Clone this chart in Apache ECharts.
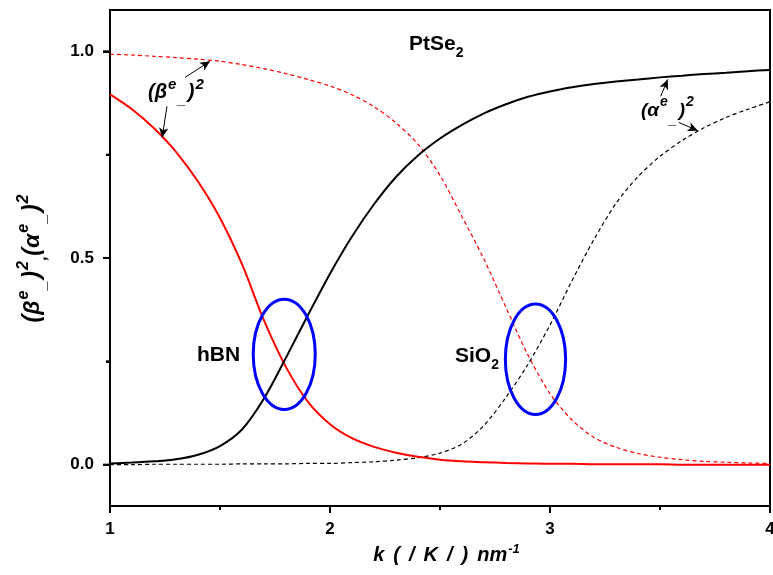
<!DOCTYPE html>
<html><head><meta charset="utf-8">
<script src="https://cdn.jsdelivr.net/npm/echarts@6/dist/echarts.min.js"></script>
<style>html,body{margin:0;padding:0;background:#fff}#c{width:773px;height:575px}</style>
</head><body><div id="c"></div>
<script>
const kValues   = [1.0,1.1,1.2,1.3,1.4,1.5,1.6,1.7,1.8,1.9,2.0,2.1,2.2,2.3,2.4,2.5,2.6,2.7,2.8,2.9,3.0,3.1,3.2,3.3,3.4,3.5,3.6,3.7,3.8,3.9,4.0];
const betaHBN   = [0.896,0.860,0.814,0.757,0.685,0.597,0.485,0.349,0.236,0.152,0.098,0.064,0.043,0.029,0.019,0.012,0.008,0.006,0.004,0.003,0.002,0.002,0.001,0.001,0.001,0.001,0.000,0.000,0.000,0.000,0.000];
const alphaHBN  = [0.003,0.005,0.008,0.013,0.024,0.045,0.085,0.160,0.259,0.362,0.462,0.552,0.630,0.696,0.748,0.789,0.822,0.850,0.872,0.890,0.903,0.913,0.921,0.927,0.932,0.937,0.941,0.945,0.948,0.952,0.955];
const betaSiO2  = [0.993,0.991,0.988,0.985,0.981,0.976,0.968,0.958,0.946,0.932,0.916,0.895,0.866,0.827,0.775,0.700,0.600,0.497,0.380,0.265,0.172,0.108,0.066,0.042,0.027,0.018,0.012,0.008,0.006,0.004,0.003];
const alphaSiO2 = [0.000,0.000,0.001,0.001,0.001,0.001,0.002,0.002,0.002,0.003,0.003,0.005,0.007,0.011,0.017,0.028,0.050,0.095,0.163,0.243,0.338,0.445,0.545,0.632,0.697,0.746,0.784,0.815,0.840,0.860,0.878];
const xMajorTicks = [1, 2, 3, 4];
const xMinorTicks = [1.5, 2.5, 3.5];
const yLabelValues = [0, 0.5, 1.0];
const yMinorValues = [0.25, 0.75];
const yMin = -0.1, yMax = 1.1, xMin = 1, xMax = 4;
// annotations in data coordinates
const arrowStart = [[1.341,0.937],[1.259,0.867],[3.503,0.891],[3.585,0.828]];
const arrowEnd   = [[1.455,0.976],[1.237,0.791],[3.535,0.932],[3.672,0.808]];
const ellipseK  = [1.792, 2.934];
const ellipseV  = [0.267, 0.255];
const ellipseRK = [0.141, 0.137];
const ellipseRV = [0.1335, 0.1335];

const FF = 'Arial, "Liberation Sans", sans-serif';
const pair = arr => kValues.map((k,i)=>[k,arr[i]]);
function richSet(size, sup, lh, color){
  const base = {fontWeight:'bold',fontStyle:'italic',fontFamily:FF,color:color,lineHeight:lh};
  return {
    m:Object.assign({fontSize:size,verticalAlign:'middle'},base),
    p:Object.assign({fontSize:size,verticalAlign:'middle',padding:[0,0,0,2]},base),
    sup:Object.assign({fontSize:sup,verticalAlign:'top',padding:[0,1,0,1]},base),
    sub:Object.assign({fontSize:sup,verticalAlign:'bottom'},base),
    g:Object.assign({fontSize:size,verticalAlign:'middle',width:9},base)
  };
}
const lineS = (name, data, color, dashed, extra) => Object.assign({
  name, type:'line', data:pair(data), showSymbol:false, smooth:0.3, silent:true,
  lineStyle:{color, width: dashed?1.2:2, type: dashed?[4,3]:'solid'}, z: dashed?2:3
}, extra||{});
const tickStyle = {stroke:'#000', lineWidth:2};

const blue = {
  a:{fontSize:21,fontWeight:'bold',fontFamily:FF,color:'#0000ff',lineHeight:32,verticalAlign:'middle'},
  s:{fontSize:14,fontWeight:'bold',fontFamily:FF,color:'#0000ff',lineHeight:32,verticalAlign:'bottom'}
};

const chart = echarts.init(document.getElementById('c'));
chart.setOption({
  animation:false,
  grid:{left:110, right:3, top:10, bottom:69, show:true, borderColor:'#000', borderWidth:2, containLabel:false, outerBoundsMode:'none'},
  xAxis:{
    type:'value', min:xMin, max:xMax, interval:1,
    axisLine:{show:true, onZero:false, lineStyle:{color:'#000', width:2}},
    axisTick:{show:true, inside:false, length:7, lineStyle:{color:'#000', width:2}},
    minorTick:{show:true, splitNumber:2, length:4, lineStyle:{color:'#000', width:2}},
    splitLine:{show:false}, minorSplitLine:{show:false},
    axisLabel:{margin:15, fontSize:17, fontWeight:'bold', color:'#000', fontFamily:FF, showMinLabel:true, showMaxLabel:true},
    name:'{m|k}{g| }{m|(}{g| }{m|/}{g| }{m|K}{g| }{m|/}{g| }{m|)}{g| }{m|nm}{sup|-1}', nameLocation:'middle', nameGap:35,
    nameTextStyle:{rich:richSet(20,13,26,'#000'), padding:[0,0,0,14]}
  },
  yAxis:[{
    type:'value', min:yMin, max:yMax, position:'left',
    axisLine:{show:true, onZero:false, lineStyle:{color:'#000', width:2}},
    axisTick:{show:true, inside:false, length:7, customValues:yLabelValues, lineStyle:{color:'#000', width:2}},
    splitLine:{show:false},
    axisLabel:{margin:16, fontSize:17, fontWeight:'bold', color:'#000', fontFamily:FF, customValues:yLabelValues, formatter:v=>v.toFixed(1)},
    name:'{m|(β}{sup|e}{sub|_}{p|)}{sup|2}{sub|,}{m|(α}{sup|e}{sub|_}{p|)}{sup|2}',
    nameLocation:'middle', nameGap:60, nameRotate:90,
    nameTextStyle:{rich:richSet(23,16,34,'#000')}
  },{
    type:'value', min:yMin, max:yMax, position:'left',
    axisLine:{show:false},
    axisTick:{show:true, inside:false, length:4, customValues:yMinorValues, lineStyle:{color:'#000', width:2}},
    axisLabel:{show:false}, splitLine:{show:false}
  }],
  series:[
    lineS('betaSiO2', betaSiO2, '#ff0000', true),
    lineS('alphaSiO2', alphaSiO2, '#000000', true),
    lineS('betaHBN', betaHBN, '#ff0000', false),
    lineS('alphaHBN', alphaHBN, '#000000', false, {
      markLine:{silent:true, animation:false, symbol:['none','arrow'], symbolSize:[7,10],
        lineStyle:{color:'#000', width:1, type:'solid'}, label:{show:false},
        data: arrowStart.map((s,i)=>[{coord:s},{coord:arrowEnd[i]}])}
    }),
    {
      type:'custom', silent:true, z:10,
      data: ellipseK.map((k,i)=>[k, ellipseV[i], ellipseRK[i], ellipseRV[i]]),
      renderItem:(params, api)=>{
        const c = api.coord([api.value(0), api.value(1)]);
        const s = api.size([api.value(2), api.value(3)]);
        return {type:'ellipse', shape:{cx:c[0], cy:c[1], rx:s[0], ry:s[1]},
          style:{fill:'none', stroke:'#0000ff', lineWidth:3}};
      }
    },
    { // x-axis ticks (major length 7, minor length 4), drawn below the axis
      type:'custom', silent:true, clip:false, z:10,
      data: xMajorTicks.map(x=>[x, yMin, 7]).concat(xMinorTicks.map(x=>[x, yMin, 4])),
      renderItem:(params, api)=>{
        const c = api.coord([api.value(0), api.value(1)]);
        const len = api.value(2);
        return {type:'line', shape:{x1:c[0], y1:c[1], x2:c[0], y2:c[1]+len}, style:tickStyle};
      }
    },
    { // y-axis ticks, drawn left of the axis
      type:'custom', silent:true, clip:false, z:10,
      data: yLabelValues.map(y=>[xMin, y, 7]).concat(yMinorValues.map(y=>[xMin, y, 4])),
      renderItem:(params, api)=>{
        const c = api.coord([api.value(0), api.value(1)]);
        const len = api.value(2);
        return {type:'line', shape:{x1:c[0]-len, y1:c[1], x2:c[0], y2:c[1]}, style:tickStyle};
      }
    }
  ],
  graphic:[
    {type:'text', x:409, y:44, z:10, style:{text:'{a|PtSe}{s|2}', rich:blue, align:'left', verticalAlign:'middle'}},
    {type:'text', x:197, y:355, z:10, style:{text:'{a|hBN}', rich:blue, align:'left', verticalAlign:'middle'}},
    {type:'text', x:455, y:356, z:10, style:{text:'{a|SiO}{s|2}', rich:blue, align:'left', verticalAlign:'middle'}},
    {type:'text', x:148, y:92, z:10, style:{text:'{m|(β}{sup|e}{sub|_}{p|)}{sup|2}', rich:richSet(20,15,30,'#ff0000'), align:'left', verticalAlign:'middle'}},
    {type:'text', x:641, y:111, z:10, style:{text:'{m|(α}{sup|e}{sub|_}{p|)}{sup|2}', rich:richSet(19,14,32,'#000'), align:'left', verticalAlign:'middle'}}
  ]
});
</script></body></html>
